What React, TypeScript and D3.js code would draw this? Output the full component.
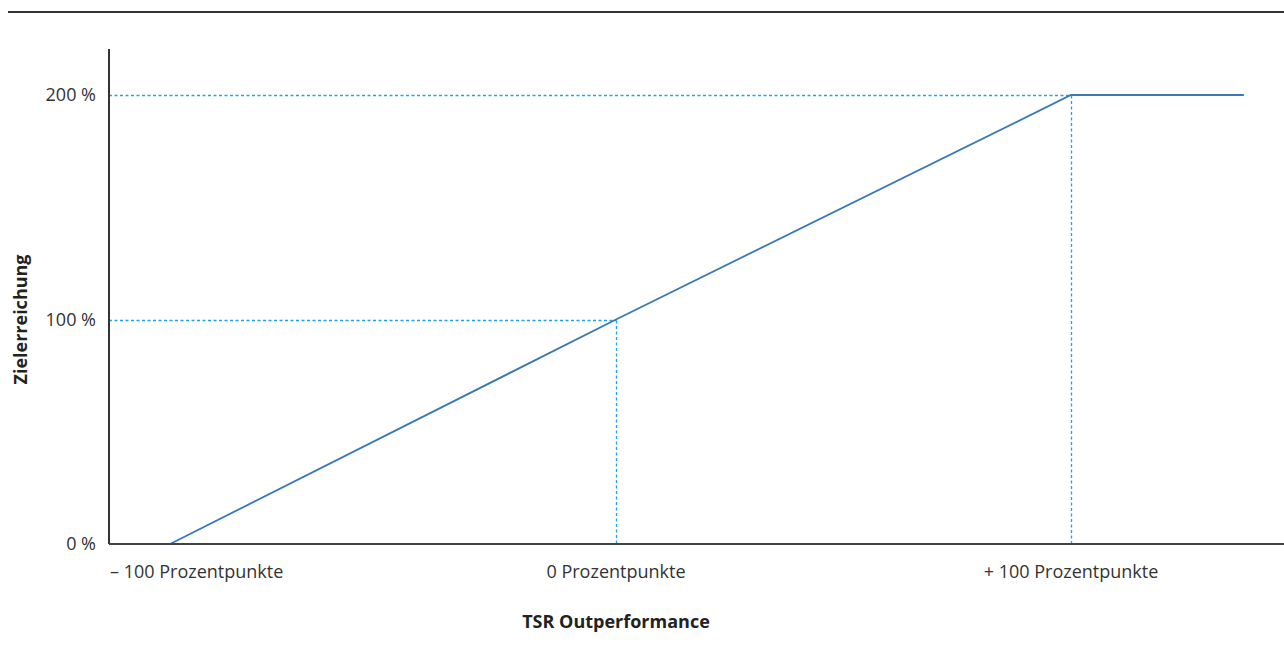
import React from "react";
import * as d3 from "d3";

const xTicks = [-100, 0, 100];
const xTickLabels = ["– 100 Prozentpunkte", "0 Prozentpunkte", "+ 100 Prozentpunkte"];
const yTicks = [0, 100, 200];
const yTickLabels = ["0 %", "100 %", "200 %"];
const curveX = [-98, 0, 100, 138];
const curveY = [0, 100, 200, 200];
const guidePointsX = [0, 100];
const guidePointsY = [100, 200];
const xTitle = "TSR Outperformance";
const yTitle = "Zielerreichung";

const W = 1284;
const H = 664;
const axisLeft = 109;
const axisRight = 1284;
const axisBottom = 544;
const axisTop = 49;

export default function App() {
  const x = d3.scaleLinear().domain([-100, 100]).range([161, 1071]);
  const y = d3.scaleLinear().domain([0, 200]).range([axisBottom, 95]);
  const snap = (v: number) => Math.round(v) + 0.5;
  const pts: [number, number][] = curveX.map((v, i) => [v, curveY[i]]);
  const line = d3
    .line<[number, number]>()
    .x((d) => x(d[0]))
    .y((d) => y(d[1]));
  const font = "'Open Sans', sans-serif";
  const textColor = "#333";
  const dashColor = "#1ea3e6";
  return (
    <svg
      width={W}
      height={H}
      style={{ position: "absolute", left: 0, top: 0, background: "#fff" }}
    >
      <line x1={8} x2={W} y1={12} y2={12} stroke="#333" strokeWidth={2} />
      {guidePointsX.map((gx, i) => (
        <g key={i}>
          <line
            x1={axisLeft}
            x2={snap(x(gx))}
            y1={snap(y(guidePointsY[i]))}
            y2={snap(y(guidePointsY[i]))}
            stroke={dashColor}
            strokeWidth={1.3}
            strokeDasharray="3,2.5"
          />
          <line
            x1={snap(x(gx))}
            x2={snap(x(gx))}
            y1={snap(y(guidePointsY[i]))}
            y2={axisBottom}
            stroke={dashColor}
            strokeWidth={1.3}
            strokeDasharray="3,2.5"
          />
        </g>
      ))}
      <path d={line(pts) || ""} fill="none" stroke="#3a78b5" strokeWidth={1.8} />
      <line x1={axisLeft} x2={axisLeft} y1={axisTop} y2={axisBottom} stroke="#333" strokeWidth={2} />
      <line x1={axisLeft} x2={axisRight} y1={axisBottom} y2={axisBottom} stroke="#444" strokeWidth={2} />
      {yTicks.map((t, i) => (
        <text
          key={t}
          x={96}
          y={y(t)}
          dy="0.35em"
          textAnchor="end"
          fontFamily={font}
          fontSize={18}
          fill={textColor}
        >
          {yTickLabels[i]}
        </text>
      ))}
      {xTicks.map((t, i) => (
        <text
          key={t}
          x={i === 0 ? 110 : x(t)}
          y={578}
          textAnchor={i === 0 ? "start" : "middle"}
          fontFamily={font}
          fontSize={18}
          fill={textColor}
        >
          {xTickLabels[i]}
        </text>
      ))}
      <text
        x={616}
        y={628}
        textAnchor="middle"
        fontFamily={font}
        fontSize={18}
        fontWeight="bold"
        fill="#222"
      >
        {xTitle}
      </text>
      <text
        transform={`translate(27, ${y(100)}) rotate(-90)`}
        textAnchor="middle"
        fontFamily={font}
        fontSize={18}
        fontWeight="bold"
        fill="#222"
      >
        {yTitle}
      </text>
    </svg>
  );
}
